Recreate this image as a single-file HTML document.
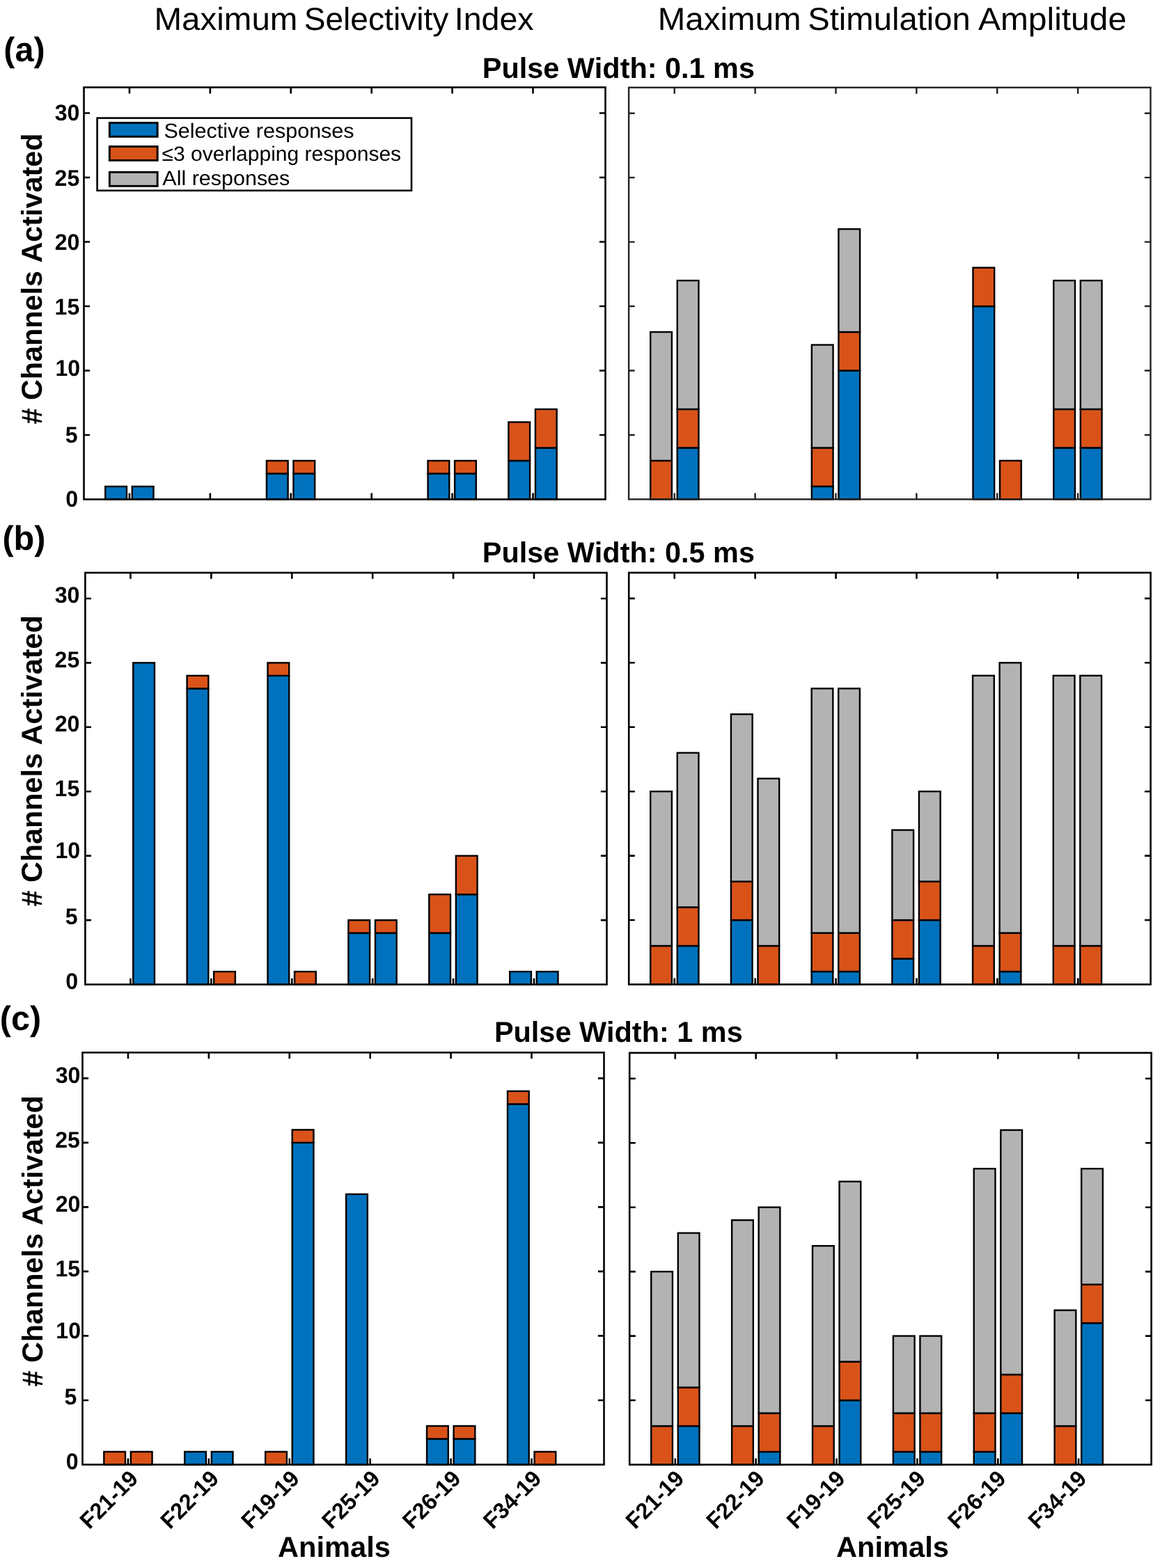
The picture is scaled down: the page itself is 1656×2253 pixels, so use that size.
<!DOCTYPE html>
<html lang="en">
<head>
<meta charset="utf-8">
<title>Channels activated by pulse width</title>
<style>html,body{margin:0;padding:0;background:#fff}svg{display:block}text{fill:#000;font-family:"Liberation Sans",sans-serif;font-kerning:none;text-rendering:geometricPrecision}</style>
</head>
<body>
<svg width="1656" height="2253" viewBox="0 0 1656 2253">
<rect width="1656" height="2253" fill="#fff"/>
<g id="aL">
<g stroke="#000" stroke-width="2.4">
<rect x="151.24" y="699" width="30.7" height="18.5" fill="#0072BD"/>
<rect x="189.79" y="699" width="30.7" height="18.5" fill="#0072BD"/>
<rect x="382.9" y="680.5" width="30.7" height="37" fill="#0072BD"/>
<rect x="382.9" y="662" width="30.7" height="18.5" fill="#D95319"/>
<rect x="421.45" y="680.5" width="30.7" height="37" fill="#0072BD"/>
<rect x="421.45" y="662" width="30.7" height="18.5" fill="#D95319"/>
<rect x="614.56" y="680.5" width="30.7" height="37" fill="#0072BD"/>
<rect x="614.56" y="662" width="30.7" height="18.5" fill="#D95319"/>
<rect x="653.11" y="680.5" width="30.7" height="37" fill="#0072BD"/>
<rect x="653.11" y="662" width="30.7" height="18.5" fill="#D95319"/>
<rect x="730.39" y="662" width="30.7" height="55.5" fill="#0072BD"/>
<rect x="730.39" y="606.5" width="30.7" height="55.5" fill="#D95319"/>
<rect x="768.94" y="643.5" width="30.7" height="74" fill="#0072BD"/>
<rect x="768.94" y="588" width="30.7" height="55.5" fill="#D95319"/>
</g>
<path d="M185.94 125.5v8.9M185.94 717.5v-8.9M301.85 125.5v8.9M301.85 717.5v-8.9M417.76 125.5v8.9M417.76 717.5v-8.9M533.67 125.5v8.9M533.67 717.5v-8.9M649.58 125.5v8.9M649.58 717.5v-8.9M765.49 125.5v8.9M765.49 717.5v-8.9M120.5 625h8.6M869.5 625h-8.6M120.5 532.5h8.6M869.5 532.5h-8.6M120.5 440h8.6M869.5 440h-8.6M120.5 347.5h8.6M869.5 347.5h-8.6M120.5 255h8.6M869.5 255h-8.6M120.5 162.5h8.6M869.5 162.5h-8.6" stroke="#000" stroke-width="2.6" fill="none"/>
<rect x="120.5" y="125.5" width="749" height="592" fill="none" stroke="#000" stroke-width="2.6"/>
</g>
<g id="aR">
<g stroke="#000" stroke-width="2.4">
<rect x="934.2" y="661.93" width="30.7" height="55.47" fill="#D95319"/>
<rect x="934.2" y="477.04" width="30.7" height="184.89" fill="#B3B3B3"/>
<rect x="972.75" y="643.44" width="30.7" height="73.96" fill="#0072BD"/>
<rect x="972.75" y="587.98" width="30.7" height="55.47" fill="#D95319"/>
<rect x="972.75" y="403.09" width="30.7" height="184.89" fill="#B3B3B3"/>
<rect x="1165.84" y="698.91" width="30.7" height="18.49" fill="#0072BD"/>
<rect x="1165.84" y="643.44" width="30.7" height="55.47" fill="#D95319"/>
<rect x="1165.84" y="495.53" width="30.7" height="147.91" fill="#B3B3B3"/>
<rect x="1204.39" y="532.51" width="30.7" height="184.89" fill="#0072BD"/>
<rect x="1204.39" y="477.04" width="30.7" height="55.47" fill="#D95319"/>
<rect x="1204.39" y="329.13" width="30.7" height="147.91" fill="#B3B3B3"/>
<rect x="1397.48" y="440.06" width="30.7" height="277.34" fill="#0072BD"/>
<rect x="1397.48" y="384.6" width="30.7" height="55.47" fill="#D95319"/>
<rect x="1436.03" y="661.93" width="30.7" height="55.47" fill="#D95319"/>
<rect x="1513.3" y="643.44" width="30.7" height="73.96" fill="#0072BD"/>
<rect x="1513.3" y="587.98" width="30.7" height="55.47" fill="#D95319"/>
<rect x="1513.3" y="403.09" width="30.7" height="184.89" fill="#B3B3B3"/>
<rect x="1551.85" y="643.44" width="30.7" height="73.96" fill="#0072BD"/>
<rect x="1551.85" y="587.98" width="30.7" height="55.47" fill="#D95319"/>
<rect x="1551.85" y="403.09" width="30.7" height="184.89" fill="#B3B3B3"/>
</g>
<path d="M968.7 125.75v8.9M968.7 717.4v-8.9M1084.58 125.75v8.9M1084.58 717.4v-8.9M1200.46 125.75v8.9M1200.46 717.4v-8.9M1316.34 125.75v8.9M1316.34 717.4v-8.9M1432.22 125.75v8.9M1432.22 717.4v-8.9M1548.1 125.75v8.9M1548.1 717.4v-8.9M903.1 624.95h8.6M1652.5 624.95h-8.6M903.1 532.51h8.6M1652.5 532.51h-8.6M903.1 440.06h8.6M1652.5 440.06h-8.6M903.1 347.62h8.6M1652.5 347.62h-8.6M903.1 255.17h8.6M1652.5 255.17h-8.6M903.1 162.73h8.6M1652.5 162.73h-8.6" stroke="#222" stroke-width="2.4" fill="none"/>
<rect x="903.1" y="125.75" width="749.4" height="591.65" fill="none" stroke="#222" stroke-width="2.4"/>
</g>
<g id="bL">
<g stroke="#000" stroke-width="2.4">
<rect x="191.25" y="952.36" width="30.7" height="462.19" fill="#0072BD"/>
<rect x="268.6" y="989.34" width="30.7" height="425.21" fill="#0072BD"/>
<rect x="268.6" y="970.85" width="30.7" height="18.49" fill="#D95319"/>
<rect x="307.15" y="1396.06" width="30.7" height="18.49" fill="#D95319"/>
<rect x="384.5" y="970.85" width="30.7" height="443.7" fill="#0072BD"/>
<rect x="384.5" y="952.36" width="30.7" height="18.49" fill="#D95319"/>
<rect x="423.05" y="1396.06" width="30.7" height="18.49" fill="#D95319"/>
<rect x="500.4" y="1340.6" width="30.7" height="73.95" fill="#0072BD"/>
<rect x="500.4" y="1322.11" width="30.7" height="18.49" fill="#D95319"/>
<rect x="538.95" y="1340.6" width="30.7" height="73.95" fill="#0072BD"/>
<rect x="538.95" y="1322.11" width="30.7" height="18.49" fill="#D95319"/>
<rect x="616.3" y="1340.6" width="30.7" height="73.95" fill="#0072BD"/>
<rect x="616.3" y="1285.14" width="30.7" height="55.46" fill="#D95319"/>
<rect x="654.85" y="1285.14" width="30.7" height="129.41" fill="#0072BD"/>
<rect x="654.85" y="1229.67" width="30.7" height="55.46" fill="#D95319"/>
<rect x="732.2" y="1396.06" width="30.7" height="18.49" fill="#0072BD"/>
<rect x="770.75" y="1396.06" width="30.7" height="18.49" fill="#0072BD"/>
</g>
<path d="M187.45 822.95v8.9M187.45 1414.55v-8.9M303.35 822.95v8.9M303.35 1414.55v-8.9M419.25 822.95v8.9M419.25 1414.55v-8.9M535.15 822.95v8.9M535.15 1414.55v-8.9M651.05 822.95v8.9M651.05 1414.55v-8.9M766.95 822.95v8.9M766.95 1414.55v-8.9M122.4 1322.11h8.6M871.5 1322.11h-8.6M122.4 1229.67h8.6M871.5 1229.67h-8.6M122.4 1137.24h8.6M871.5 1137.24h-8.6M122.4 1044.8h8.6M871.5 1044.8h-8.6M122.4 952.36h8.6M871.5 952.36h-8.6M122.4 859.93h8.6M871.5 859.93h-8.6" stroke="#000" stroke-width="2.6" fill="none"/>
<rect x="122.4" y="822.95" width="749.1" height="591.6" fill="none" stroke="#000" stroke-width="2.6"/>
</g>
<g id="bR">
<g stroke="#000" stroke-width="2.4">
<rect x="934.2" y="1359.04" width="30.7" height="55.46" fill="#D95319"/>
<rect x="934.2" y="1137.19" width="30.7" height="221.85" fill="#B3B3B3"/>
<rect x="972.75" y="1359.04" width="30.7" height="55.46" fill="#0072BD"/>
<rect x="972.75" y="1303.58" width="30.7" height="55.46" fill="#D95319"/>
<rect x="972.75" y="1081.72" width="30.7" height="221.85" fill="#B3B3B3"/>
<rect x="1049.92" y="1322.06" width="30.7" height="92.44" fill="#0072BD"/>
<rect x="1049.92" y="1266.6" width="30.7" height="55.46" fill="#D95319"/>
<rect x="1049.92" y="1026.26" width="30.7" height="240.34" fill="#B3B3B3"/>
<rect x="1088.47" y="1359.04" width="30.7" height="55.46" fill="#D95319"/>
<rect x="1088.47" y="1118.7" width="30.7" height="240.34" fill="#B3B3B3"/>
<rect x="1165.64" y="1396.01" width="30.7" height="18.49" fill="#0072BD"/>
<rect x="1165.64" y="1340.55" width="30.7" height="55.46" fill="#D95319"/>
<rect x="1165.64" y="989.29" width="30.7" height="351.26" fill="#B3B3B3"/>
<rect x="1204.19" y="1396.01" width="30.7" height="18.49" fill="#0072BD"/>
<rect x="1204.19" y="1340.55" width="30.7" height="55.46" fill="#D95319"/>
<rect x="1204.19" y="989.29" width="30.7" height="351.26" fill="#B3B3B3"/>
<rect x="1281.36" y="1377.53" width="30.7" height="36.98" fill="#0072BD"/>
<rect x="1281.36" y="1322.06" width="30.7" height="55.46" fill="#D95319"/>
<rect x="1281.36" y="1192.65" width="30.7" height="129.41" fill="#B3B3B3"/>
<rect x="1319.91" y="1322.06" width="30.7" height="92.44" fill="#0072BD"/>
<rect x="1319.91" y="1266.6" width="30.7" height="55.46" fill="#D95319"/>
<rect x="1319.91" y="1137.19" width="30.7" height="129.41" fill="#B3B3B3"/>
<rect x="1397.08" y="1359.04" width="30.7" height="55.46" fill="#D95319"/>
<rect x="1397.08" y="970.8" width="30.7" height="388.24" fill="#B3B3B3"/>
<rect x="1435.63" y="1396.01" width="30.7" height="18.49" fill="#0072BD"/>
<rect x="1435.63" y="1340.55" width="30.7" height="55.46" fill="#D95319"/>
<rect x="1435.63" y="952.31" width="30.7" height="388.24" fill="#B3B3B3"/>
<rect x="1512.8" y="1359.04" width="30.7" height="55.46" fill="#D95319"/>
<rect x="1512.8" y="970.8" width="30.7" height="388.24" fill="#B3B3B3"/>
<rect x="1551.35" y="1359.04" width="30.7" height="55.46" fill="#D95319"/>
<rect x="1551.35" y="970.8" width="30.7" height="388.24" fill="#B3B3B3"/>
</g>
<path d="M968.7 822.9v8.9M968.7 1414.5v-8.9M1084.62 822.9v8.9M1084.62 1414.5v-8.9M1200.54 822.9v8.9M1200.54 1414.5v-8.9M1316.46 822.9v8.9M1316.46 1414.5v-8.9M1432.38 822.9v8.9M1432.38 1414.5v-8.9M1548.3 822.9v8.9M1548.3 1414.5v-8.9M903.2 1322.06h8.6M1652.6 1322.06h-8.6M903.2 1229.62h8.6M1652.6 1229.62h-8.6M903.2 1137.19h8.6M1652.6 1137.19h-8.6M903.2 1044.75h8.6M1652.6 1044.75h-8.6M903.2 952.31h8.6M1652.6 952.31h-8.6M903.2 859.88h8.6M1652.6 859.88h-8.6" stroke="#000" stroke-width="2.6" fill="none"/>
<rect x="903.2" y="822.9" width="749.4" height="591.6" fill="none" stroke="#000" stroke-width="2.6"/>
</g>
<g id="cL">
<g stroke="#000" stroke-width="2.4">
<rect x="149.3" y="2085.95" width="30.7" height="18.5" fill="#D95319"/>
<rect x="187.85" y="2085.95" width="30.7" height="18.5" fill="#D95319"/>
<rect x="265.24" y="2085.95" width="30.7" height="18.5" fill="#0072BD"/>
<rect x="303.79" y="2085.95" width="30.7" height="18.5" fill="#0072BD"/>
<rect x="381.18" y="2085.95" width="30.7" height="18.5" fill="#D95319"/>
<rect x="419.73" y="1641.87" width="30.7" height="462.58" fill="#0072BD"/>
<rect x="419.73" y="1623.37" width="30.7" height="18.5" fill="#D95319"/>
<rect x="497.12" y="1715.88" width="30.7" height="388.57" fill="#0072BD"/>
<rect x="613.06" y="2067.44" width="30.7" height="37.01" fill="#0072BD"/>
<rect x="613.06" y="2048.94" width="30.7" height="18.5" fill="#D95319"/>
<rect x="651.61" y="2067.44" width="30.7" height="37.01" fill="#0072BD"/>
<rect x="651.61" y="2048.94" width="30.7" height="18.5" fill="#D95319"/>
<rect x="729" y="1586.36" width="30.7" height="518.09" fill="#0072BD"/>
<rect x="729" y="1567.86" width="30.7" height="18.5" fill="#D95319"/>
<rect x="767.55" y="2085.95" width="30.7" height="18.5" fill="#D95319"/>
</g>
<path d="M183.94 1512.35v8.9M183.94 2104.45v-8.9M299.85 1512.35v8.9M299.85 2104.45v-8.9M415.76 1512.35v8.9M415.76 2104.45v-8.9M531.67 1512.35v8.9M531.67 2104.45v-8.9M647.58 1512.35v8.9M647.58 2104.45v-8.9M763.49 1512.35v8.9M763.49 2104.45v-8.9M118.5 2011.93h8.6M867.5 2011.93h-8.6M118.5 1919.42h8.6M867.5 1919.42h-8.6M118.5 1826.9h8.6M867.5 1826.9h-8.6M118.5 1734.39h8.6M867.5 1734.39h-8.6M118.5 1641.87h8.6M867.5 1641.87h-8.6M118.5 1549.36h8.6M867.5 1549.36h-8.6" stroke="#000" stroke-width="2.6" fill="none"/>
<rect x="118.5" y="1512.35" width="749" height="592.1" fill="none" stroke="#000" stroke-width="2.6"/>
</g>
<g id="cR">
<g stroke="#000" stroke-width="2.4">
<rect x="935.24" y="2049.03" width="30.7" height="55.47" fill="#D95319"/>
<rect x="935.24" y="1827.14" width="30.7" height="221.89" fill="#B3B3B3"/>
<rect x="973.79" y="2049.03" width="30.7" height="55.47" fill="#0072BD"/>
<rect x="973.79" y="1993.56" width="30.7" height="55.47" fill="#D95319"/>
<rect x="973.79" y="1771.67" width="30.7" height="221.89" fill="#B3B3B3"/>
<rect x="1051.12" y="2049.03" width="30.7" height="55.47" fill="#D95319"/>
<rect x="1051.12" y="1753.18" width="30.7" height="295.85" fill="#B3B3B3"/>
<rect x="1089.67" y="2086.01" width="30.7" height="18.49" fill="#0072BD"/>
<rect x="1089.67" y="2030.54" width="30.7" height="55.47" fill="#D95319"/>
<rect x="1089.67" y="1734.69" width="30.7" height="295.85" fill="#B3B3B3"/>
<rect x="1167" y="2049.03" width="30.7" height="55.47" fill="#D95319"/>
<rect x="1167" y="1790.16" width="30.7" height="258.87" fill="#B3B3B3"/>
<rect x="1205.55" y="2012.05" width="30.7" height="92.45" fill="#0072BD"/>
<rect x="1205.55" y="1956.58" width="30.7" height="55.47" fill="#D95319"/>
<rect x="1205.55" y="1697.71" width="30.7" height="258.87" fill="#B3B3B3"/>
<rect x="1282.88" y="2086.01" width="30.7" height="18.49" fill="#0072BD"/>
<rect x="1282.88" y="2030.54" width="30.7" height="55.47" fill="#D95319"/>
<rect x="1282.88" y="1919.59" width="30.7" height="110.94" fill="#B3B3B3"/>
<rect x="1321.43" y="2086.01" width="30.7" height="18.49" fill="#0072BD"/>
<rect x="1321.43" y="2030.54" width="30.7" height="55.47" fill="#D95319"/>
<rect x="1321.43" y="1919.59" width="30.7" height="110.94" fill="#B3B3B3"/>
<rect x="1398.76" y="2086.01" width="30.7" height="18.49" fill="#0072BD"/>
<rect x="1398.76" y="2030.54" width="30.7" height="55.47" fill="#D95319"/>
<rect x="1398.76" y="1679.22" width="30.7" height="351.32" fill="#B3B3B3"/>
<rect x="1437.31" y="2030.54" width="30.7" height="73.96" fill="#0072BD"/>
<rect x="1437.31" y="1975.07" width="30.7" height="55.47" fill="#D95319"/>
<rect x="1437.31" y="1623.74" width="30.7" height="351.32" fill="#B3B3B3"/>
<rect x="1514.64" y="2049.03" width="30.7" height="55.47" fill="#D95319"/>
<rect x="1514.64" y="1882.61" width="30.7" height="166.42" fill="#B3B3B3"/>
<rect x="1553.19" y="1901.1" width="30.7" height="203.4" fill="#0072BD"/>
<rect x="1553.19" y="1845.63" width="30.7" height="55.47" fill="#D95319"/>
<rect x="1553.19" y="1679.22" width="30.7" height="166.42" fill="#B3B3B3"/>
</g>
<path d="M969.76 1512.8v8.9M969.76 2104.5v-8.9M1085.64 1512.8v8.9M1085.64 2104.5v-8.9M1201.52 1512.8v8.9M1201.52 2104.5v-8.9M1317.4 1512.8v8.9M1317.4 2104.5v-8.9M1433.28 1512.8v8.9M1433.28 2104.5v-8.9M1549.16 1512.8v8.9M1549.16 2104.5v-8.9M904.2 2012.05h8.6M1653.6 2012.05h-8.6M904.2 1919.59h8.6M1653.6 1919.59h-8.6M904.2 1827.14h8.6M1653.6 1827.14h-8.6M904.2 1734.69h8.6M1653.6 1734.69h-8.6M904.2 1642.23h8.6M1653.6 1642.23h-8.6M904.2 1549.78h8.6M1653.6 1549.78h-8.6" stroke="#000" stroke-width="2.6" fill="none"/>
<rect x="904.2" y="1512.8" width="749.4" height="591.7" fill="none" stroke="#000" stroke-width="2.6"/>
</g>
<g id="legend" stroke="#000">
<rect x="139.6" y="169.6" width="451.4" height="104.2" fill="#fff" stroke-width="2.6"/>
<rect x="157.35" y="176.45" width="68.8" height="19.9" fill="#0072BD" stroke-width="2.9"/>
<rect x="157.35" y="210.55" width="68.8" height="19.9" fill="#D95319" stroke-width="2.9"/>
<rect x="157.35" y="247.45" width="68.8" height="19.9" fill="#B3B3B3" stroke-width="2.9"/>
</g>
<g id="labels">
<text transform="translate(0 43.04) scale(1 0.996)" font-size="46"><tspan x="221.5" textLength="205.93" lengthAdjust="spacingAndGlyphs">Maximum</tspan> <tspan x="436.7" textLength="207.69" lengthAdjust="spacingAndGlyphs">Selectivity</tspan> <tspan x="652.76" textLength="113.74" lengthAdjust="spacingAndGlyphs">Index</tspan></text>
<text transform="translate(0 43.04) scale(1 0.996)" font-size="46"><tspan x="944.8" textLength="205.83" lengthAdjust="spacingAndGlyphs">Maximum</tspan> <tspan x="1160.26" textLength="233.61" lengthAdjust="spacingAndGlyphs">Stimulation</tspan> <tspan x="1404.91" textLength="213.22" lengthAdjust="spacingAndGlyphs">Amplitude</tspan></text>
<text transform="translate(5.2 87.69) scale(1.0000 1.0100)" font-size="48.6" font-weight="bold">(a)</text>
<text transform="translate(3.42 789.59) scale(1.0000 1.0100)" font-size="48.6" font-weight="bold">(b)</text>
<text transform="translate(-0.3 1480.49) scale(1.0000 1.0100)" font-size="48.6" font-weight="bold">(c)</text>
<text transform="translate(692.83 111.7) scale(0.9976 1.0000)" font-size="41.5" font-weight="bold">Pulse Width: 0.1 ms</text>
<text transform="translate(692.83 807.8) scale(0.9976 1.0000)" font-size="41.5" font-weight="bold">Pulse Width: 0.5 ms</text>
<text transform="translate(709.93 1496.7) scale(0.9982 1.0000)" font-size="41.5" font-weight="bold">Pulse Width: 1 ms</text>
<text transform="translate(235.41 197.75) scale(1.0176 0.9850)" font-size="30">Selective responses</text>
<text transform="translate(232.48 231.3) scale(1.0008 0.9850)" font-size="30">≤3 overlapping responses</text>
<text transform="translate(233.34 266) scale(1.0160 0.9850)" font-size="30">All responses</text>
<text transform="translate(398.96 2236.85) scale(1.0031 1.0000)" font-size="41.5" font-weight="bold">Animals</text>
<text transform="translate(1200.96 2236.85) scale(1.0031 1.0000)" font-size="41.5" font-weight="bold">Animals</text>
<text transform="translate(59.99 609.61) rotate(-90) scale(0.9964 1.0000)" font-size="41.5" font-weight="bold"># Channels Activated</text>
<text transform="translate(60.04 1302.61) rotate(-90) scale(0.9966 1.0000)" font-size="41.5" font-weight="bold"># Channels Activated</text>
<text transform="translate(61.04 1992.61) rotate(-90) scale(0.9966 1.0000)" font-size="41.5" font-weight="bold"># Channels Activated</text>
<text transform="translate(78.68 172.77) scale(1.0200 1.0370)" font-size="31.5" font-weight="bold">30</text>
<text transform="translate(78.56 266.84) scale(1.0200 1.0370)" font-size="31.5" font-weight="bold">25</text>
<text transform="translate(78.68 359.09) scale(1.0200 1.0370)" font-size="31.5" font-weight="bold">20</text>
<text transform="translate(78.56 451.68) scale(1.0200 1.0370)" font-size="31.5" font-weight="bold">15</text>
<text transform="translate(79.38 539.79) scale(1.0200 1.0370)" font-size="31.5" font-weight="bold">10</text>
<text transform="translate(93.73 635.73) scale(1.0200 1.0370)" font-size="31.5" font-weight="bold">5</text>
<text transform="translate(94.15 727.94) scale(1.0200 1.0370)" font-size="31.5" font-weight="bold">0</text>
<text transform="translate(78.68 866.07) scale(1.0200 1.0370)" font-size="31.5" font-weight="bold">30</text>
<text transform="translate(78.56 958.89) scale(1.0200 1.0370)" font-size="31.5" font-weight="bold">25</text>
<text transform="translate(78.68 1050.94) scale(1.0200 1.0370)" font-size="31.5" font-weight="bold">20</text>
<text transform="translate(78.56 1143.88) scale(1.0200 1.0370)" font-size="31.5" font-weight="bold">15</text>
<text transform="translate(79.38 1232.84) scale(1.0200 1.0370)" font-size="31.5" font-weight="bold">10</text>
<text transform="translate(93.73 1328.38) scale(1.0200 1.0370)" font-size="31.5" font-weight="bold">5</text>
<text transform="translate(94.15 1420.84) scale(1.0200 1.0370)" font-size="31.5" font-weight="bold">0</text>
<text transform="translate(79.63 1556.07) scale(1.0200 1.0370)" font-size="31.5" font-weight="bold">30</text>
<text transform="translate(79.21 1649.04) scale(1.0200 1.0370)" font-size="31.5" font-weight="bold">25</text>
<text transform="translate(79.63 1740.94) scale(1.0200 1.0370)" font-size="31.5" font-weight="bold">20</text>
<text transform="translate(79.46 1833.78) scale(1.0200 1.0370)" font-size="31.5" font-weight="bold">15</text>
<text transform="translate(80.28 1922.84) scale(1.0200 1.0370)" font-size="31.5" font-weight="bold">10</text>
<text transform="translate(92.43 2018.38) scale(1.0200 1.0370)" font-size="31.5" font-weight="bold">5</text>
<text transform="translate(94.85 2110.84) scale(1.0200 1.0370)" font-size="31.5" font-weight="bold">0</text>
<text transform="translate(128.27 2198.52) rotate(-45) scale(1.0200 1.0370)" font-size="31.5" font-weight="bold">F21-19</text>
<text transform="translate(912.37 2198.52) rotate(-45) scale(1.0200 1.0370)" font-size="31.5" font-weight="bold">F21-19</text>
<text transform="translate(244.1 2198.52) rotate(-45) scale(1.0200 1.0370)" font-size="31.5" font-weight="bold">F22-19</text>
<text transform="translate(1027.97 2198.52) rotate(-45) scale(1.0200 1.0370)" font-size="31.5" font-weight="bold">F22-19</text>
<text transform="translate(359.93 2198.52) rotate(-45) scale(1.0200 1.0370)" font-size="31.5" font-weight="bold">F19-19</text>
<text transform="translate(1143.57 2198.52) rotate(-45) scale(1.0200 1.0370)" font-size="31.5" font-weight="bold">F19-19</text>
<text transform="translate(475.76 2198.52) rotate(-45) scale(1.0200 1.0370)" font-size="31.5" font-weight="bold">F25-19</text>
<text transform="translate(1259.17 2198.52) rotate(-45) scale(1.0200 1.0370)" font-size="31.5" font-weight="bold">F25-19</text>
<text transform="translate(591.59 2198.52) rotate(-45) scale(1.0200 1.0370)" font-size="31.5" font-weight="bold">F26-19</text>
<text transform="translate(1374.77 2198.52) rotate(-45) scale(1.0200 1.0370)" font-size="31.5" font-weight="bold">F26-19</text>
<text transform="translate(707.42 2198.52) rotate(-45) scale(1.0200 1.0370)" font-size="31.5" font-weight="bold">F34-19</text>
<text transform="translate(1490.37 2198.52) rotate(-45) scale(1.0200 1.0370)" font-size="31.5" font-weight="bold">F34-19</text>
</g>
</svg>
</body>
</html>
